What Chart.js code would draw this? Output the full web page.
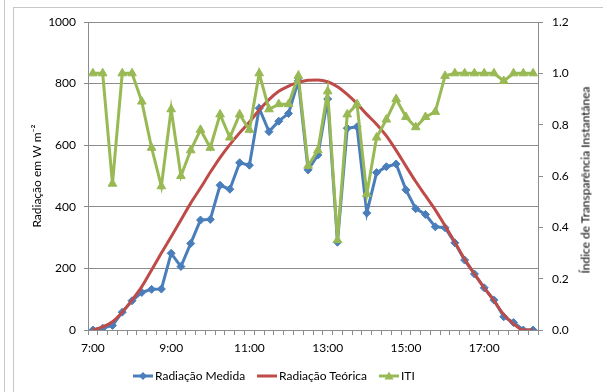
<!DOCTYPE html>
<html>
<head>
<meta charset="utf-8">
<script src="https://cdn.jsdelivr.net/npm/chart.js@4/dist/chart.umd.min.js"></script>
<style>
  body { margin: 0; background: #fff; }
  #wrap { position: relative; width: 603px; height: 392px; overflow: hidden; font-family: Lato, sans-serif; }
  #chart { position: absolute; left: 0; top: 0; }
  .edge { position: absolute; background: #c8c8c8; }
  #right-title {
    position: absolute; left: 585px; top: 180px; width: 0; height: 0;
  }
  #right-title span {
    position: absolute; white-space: nowrap; font-size: 12px; color: #000;
    transform: translate(-50%, -50%) rotate(-90deg);
  }
  #legend {
    position: absolute; left: 133px; top: 368px;
    font-size: 12px; color: #000; white-space: nowrap;
  }
  #legend .item { display: inline-block; margin-right: 12px; }
  #legend svg { vertical-align: middle; margin-right: 2px; position: relative; top: -1px; }
</style>
</head>
<body>
<div id="wrap">
  <canvas id="chart" width="603" height="392"></canvas>
  <div class="edge" style="left:4px; top:0; width:1px; height:392px"></div>
  <div class="edge" style="left:13px; top:7px; width:1px; height:385px"></div>
  <div class="edge" style="left:13px; top:7px; width:590px; height:1px"></div>
  <div id="right-title"><span>Índice de Transparência Instantânea</span></div>
  <div id="legend"></div>
</div>
<script>
const timeLabels = ['7:00', '7:15', '7:30', '7:45', '8:00', '8:15', '8:30', '8:45',
  '9:00', '9:15', '9:30', '9:45', '10:00', '10:15', '10:30', '10:45',
  '11:00', '11:15', '11:30', '11:45', '12:00', '12:15', '12:30', '12:45',
  '13:00', '13:15', '13:30', '13:45', '14:00', '14:15', '14:30', '14:45',
  '15:00', '15:15', '15:30', '15:45', '16:00', '16:15', '16:30', '16:45',
  '17:00', '17:15', '17:30', '17:45', '18:00', '18:15'];

// W m-2
const radMedida = [0, 6, 15, 58, 95, 122, 132, 133, 249, 206, 281, 357, 359, 470, 457, 543,
  535, 720, 644, 678, 703, 809, 520, 568, 750, 285, 655, 660, 380, 511, 530, 539,
  455, 394, 375, 335, 332, 283, 227, 182, 137, 97, 43, 24, 0, 0];

const radTeorica = [0, 10, 27, 58, 97, 141, 195, 250, 303, 357, 412, 461, 512, 560, 602, 640,
  675, 714, 748, 775, 792, 804, 811, 812, 806, 790, 765, 735, 700, 668, 630, 583,
  532, 482, 436, 390, 338, 285, 230, 182, 137, 95, 50, 20, 0, 0];

// índice de transparência instantânea
const iti = [1.0, 1.0, 0.57, 1.0, 1.0, 0.89, 0.71, 0.56, 0.86, 0.60, 0.70, 0.78, 0.71, 0.84, 0.75, 0.84,
  0.78, 1.0, 0.86, 0.88, 0.88, 0.99, 0.64, 0.70, 0.93, 0.35, 0.84, 0.88, 0.53, 0.75, 0.82, 0.90,
  0.83, 0.79, 0.83, 0.85, 0.99, 1.0, 1.0, 1.0, 1.0, 1.0, 0.97, 1.0, 1.0, 1.0];

const radMax = 1000, radStep = 200;
const itiMax = 1.2, itiStep = 0.2;
const labelEvery = 8;

const BLUE = '#4a7ebb';
const RED = '#be4b48';
const GREEN = '#98b954';
const GRID = '#8c8c8c';
const FONT = { family: 'Lato, sans-serif', size: 12 };

const series = [
  { label: 'Radiação Medida', color: BLUE, marker: 'diamond' },
  { label: 'Radiação Teórica', color: RED, marker: null },
  { label: 'ITI', color: GREEN, marker: 'triangle' }
];

function legendIcon(s) {
  let m = '';
  if (s.marker === 'diamond') m = `<polygon points="10,1 14,5 10,9 6,5" fill="${s.color}"/>`;
  if (s.marker === 'triangle') m = `<polygon points="10,0.5 14.5,8.5 5.5,8.5" fill="${s.color}"/>`;
  return `<svg width="20" height="10"><line x1="0" y1="5" x2="20" y2="5" stroke="${s.color}" stroke-width="3"/>${m}</svg>`;
}
document.getElementById('legend').innerHTML = series
  .map(s => `<span class="item">${legendIcon(s)}${s.label}</span>`).join('');

new Chart(document.getElementById('chart'), {
  type: 'line',
  data: {
    labels: timeLabels,
    datasets: [
      {
        label: 'Radiação Medida', data: radMedida, yAxisID: 'y',
        borderColor: BLUE, backgroundColor: BLUE, borderWidth: 3,
        pointStyle: 'rectRot', pointRadius: 4, pointBorderWidth: 1,
        tension: 0, order: 3
      },
      {
        label: 'Radiação Teórica', data: radTeorica, yAxisID: 'y',
        borderColor: RED, backgroundColor: RED, borderWidth: 3,
        pointRadius: 0, cubicInterpolationMode: 'monotone', order: 2
      },
      {
        label: 'ITI', data: iti, yAxisID: 'y1',
        borderColor: GREEN, backgroundColor: GREEN, borderWidth: 3,
        pointStyle: 'triangle', pointRadius: 5, pointBorderWidth: 1,
        tension: 0, order: 1
      }
    ]
  },
  options: {
    responsive: false,
    animation: false,
    devicePixelRatio: 1,
    layout: { padding: { left: 30, right: 0, top: 22, bottom: 0 } },
    plugins: { legend: { display: false }, tooltip: { enabled: false } },
    scales: {
      x: {
        offset: true,
        grid: { display: true, drawOnChartArea: false, drawTicks: true, tickLength: 5, offset: true, color: GRID },
        border: { color: GRID },
        ticks: {
          autoSkip: false, maxRotation: 0, padding: 6, color: '#000', font: FONT,
          callback: (v, i) => i % labelEvery === 0 ? timeLabels[i] : ''
        },
        afterFit: s => { s.height = 62; }
      },
      y: {
        position: 'left', min: 0, max: radMax,
        grid: { color: GRID, tickLength: 4 },
        border: { color: GRID },
        ticks: { stepSize: radStep, padding: 8, color: '#000', font: FONT, callback: v => String(v) },
        title: { display: true, text: 'Radiação em W m⁻²', color: '#000', font: FONT, padding: 0 },
        afterFit: s => { s.width = 58; }
      },
      y1: {
        position: 'right', min: 0, max: itiMax,
        grid: { drawOnChartArea: false, tickLength: 5, color: GRID },
        border: { color: GRID },
        ticks: { stepSize: itiStep, padding: 9, color: '#000', font: FONT, callback: v => v.toFixed(1) },
        afterFit: s => { s.width = 65; }
      }
    }
  }
});
</script>
</body>
</html>
